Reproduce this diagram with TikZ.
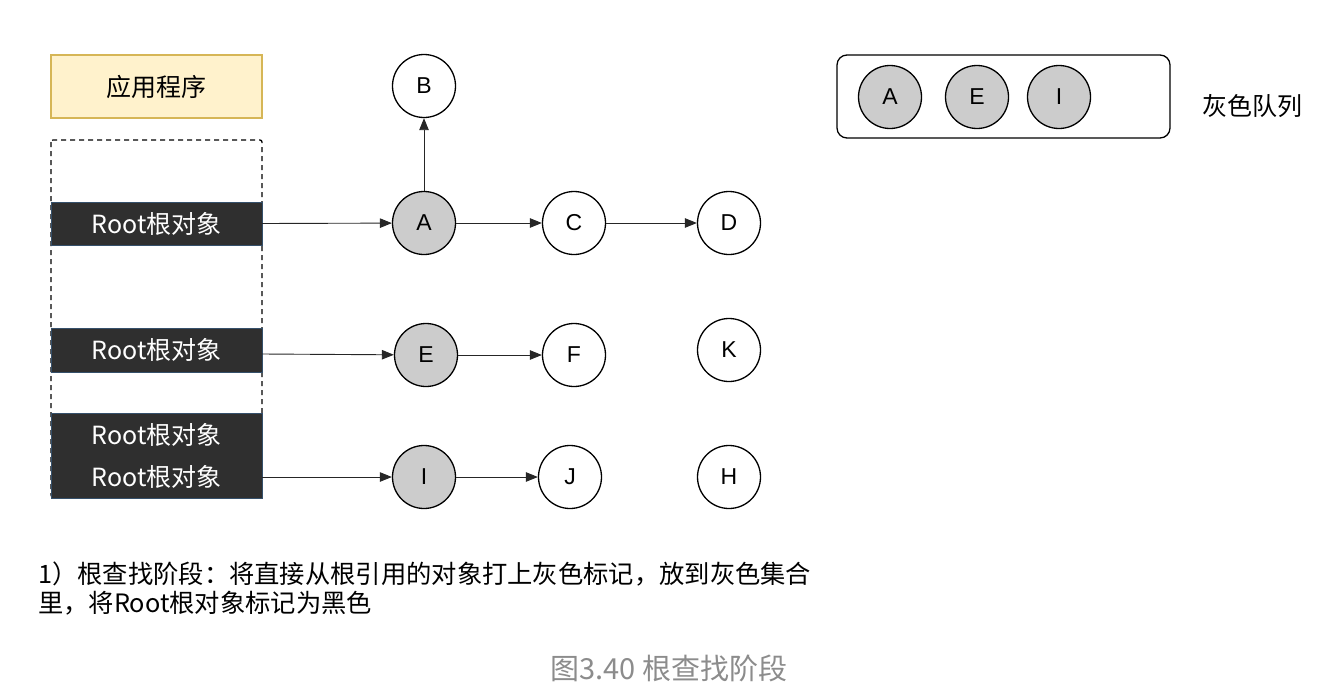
\documentclass[tikz,border=0pt]{standalone}
\usepackage{fontspec}
\setmainfont{Noto Sans CJK SC}
\newfontfamily\latinsans{Liberation Sans}
\usetikzlibrary{arrows.meta}
\definecolor{appfill}{HTML}{FFF2CC}
\definecolor{appline}{HTML}{D6B656}
\definecolor{rootfill}{HTML}{2F2F2F}
\definecolor{rootline}{HTML}{35506B}
\definecolor{grayfill}{HTML}{CCCCCC}
\definecolor{capgray}{HTML}{8C8C8C}
\tikzset{
  obj/.style={circle, draw=black, line width=1.3pt, minimum size=63pt, inner sep=0pt,
    font=\latinsans\fontsize{23}{23}\selectfont},
  grayobj/.style={obj, fill=grayfill},
  rootbox/.style={draw=rootline, line width=1pt, fill=rootfill, text=white},
  roottext/.style={text=white, font=\fontsize{25}{25}\selectfont},
  link/.style={draw=black!85, line width=0.9pt, -{Triangle[length=12pt,width=9.5pt]}},
}
\begin{document}
\begin{tikzpicture}[x=1pt, y=-1pt]
\useasboundingbox (0,0) rectangle (1321,696);

% application box
\node[draw=appline, line width=1.3pt, fill=appfill, minimum width=211pt, minimum height=63pt,
  font=\fontsize{25}{25}\selectfont] (app) at (156.5,86.5) {应用程序};

% dashed frame around the roots
\draw[dashed, line width=1.3pt, dash pattern=on 5pt off 4pt, rounded corners=2pt] (51,140) rectangle (262,497);

% root objects
\fill[rootbox] (51,202) rectangle (262,245);
\node[roottext] (r1) at (156.5,223.5) {Root根对象};
\coordinate (r1e) at (262,223.5);
\fill[rootbox] (51,328) rectangle (262,372);
\node[roottext] (r2) at (156.5,350) {Root根对象};
\coordinate (r2e) at (262,354);
\fill[rootbox] (51,413) rectangle (262,498);
\node[roottext] (r3) at (156.5,435) {Root根对象};
\node[roottext] (r4) at (156.5,477) {Root根对象};
\coordinate (r4e) at (262,477);

% object graph
\node[obj] (B) at (424,86) {B};
\node[grayobj] (A) at (424,223) {A};
\node[obj] (C) at (574,223) {C};
\node[obj] (D) at (729,223) {D};
\node[grayobj] (E) at (426,355) {E};
\node[obj] (F) at (574,355) {F};
\node[obj] (K) at (729,350) {K};
\node[grayobj] (I) at (424,477) {I};
\node[obj] (J) at (570,477) {J};
\node[obj] (H) at (729,477) {H};

\draw[link] (r1e) -- (A);
\draw[link] (r2e) -- (E);
\draw[link] (r4e) -- (I);
\draw[link] (A) -- (B);
\draw[link] (A) -- (C);
\draw[link] (C) -- (D);
\draw[link] (E) -- (F);
\draw[link] (I) -- (J);

% gray queue
\node[draw=black, line width=1.3pt, rounded corners=10pt, minimum width=333pt, minimum height=83pt] (queue) at (1003.5,96.5) {};
\node[grayobj] (qA) at (890,97) {A};
\node[grayobj] (qE) at (977,97) {E};
\node[grayobj] (qI) at (1059,97) {I};
\node[font=\fontsize{25}{25}\selectfont] (qlabel) at (1252,106) {灰色队列};

% description
\node[anchor=north west, align=left, inner sep=0pt, font=\fontsize{25.3}{29}\selectfont] (desc) at (38,562)
  {1）根查找阶段：将直接从根引用的对象打上灰色标记，放到灰色集合\\里，将Root根对象标记为黑色};

% figure caption
\node[text=capgray, font=\fontsize{29}{29}\selectfont] (cap) at (669,668) {图3.40 根查找阶段};
\end{tikzpicture}
\end{document}
